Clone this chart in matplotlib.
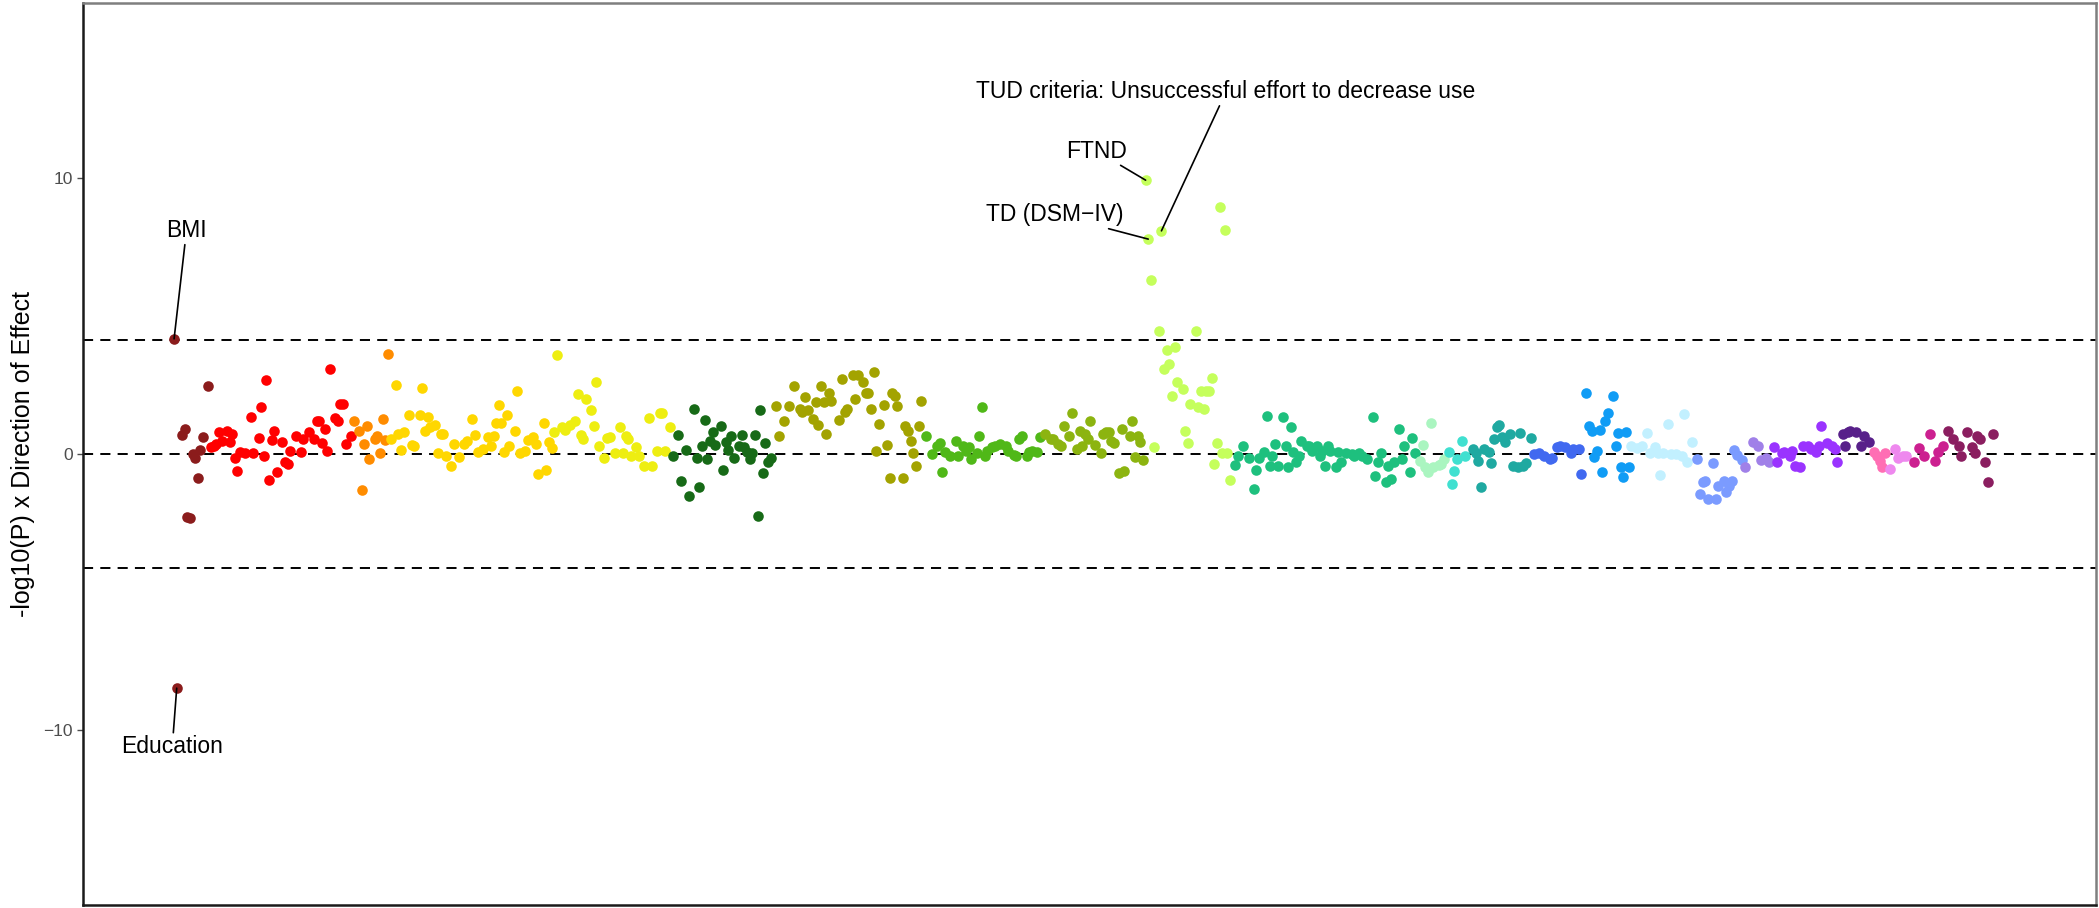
import numpy as np
import matplotlib
matplotlib.use("Agg")
import matplotlib.pyplot as plt

plt.rcParams["font.family"] = ["Liberation Sans", "DejaVu Sans"]

# ---- data: phenotype index and signed -log10(P) per category ----
dark_red_x = [1, 2, 4, 5, 6, 7, 8, 9, 10, 11, 12, 14]
dark_red_y = [4.18, -8.5, 0.69, 0.91, -2.27, -2.34, 0.0, -0.16, -0.88, 0.16, 0.61, 2.48]

red_x = [15, 16, 17, 18, 19, 21, 22, 23, 24, 25, 26, 28, 30, 31, 33, 34, 35, 36, 37, 38, 39, 40,
         42, 43, 44, 45, 47, 49, 50, 52, 54, 55, 56, 57, 58, 59, 60, 62, 63, 64, 65, 66, 68]
red_y = [0.24, 0.30, 0.36, 0.79, 0.48, 0.85, 0.42, 0.73, -0.16, -0.61, 0.08, 0.04, 1.33, 0.04,
         0.57, 1.70, -0.08, 2.70, -0.95, 0.52, 0.85, -0.67, 0.42, -0.28, -0.36, 0.12, 0.67, 0.06,
         0.55, 0.81, 0.55, 1.21, 1.21, 0.40, 0.91, 0.12, 3.09, 1.30, 1.18, 1.82, 1.82, 0.36, 0.67]

orange_x = [69, 71, 72, 73, 74, 75, 77, 78, 79, 80, 81, 82]
orange_y = [1.18, 0.85, -1.30, 0.36, 1.03, -0.18, 0.55, 0.67, 0.04, 1.27, 0.52, 3.64]

gold_x = [83, 85, 86, 87, 88, 90, 91, 92, 94, 95, 96, 97, 98, 100, 101, 102, 103, 104, 106, 107,
          109, 111, 112, 114, 115, 116, 118, 120, 121, 122, 123, 124, 125, 126, 127, 128, 130, 131,
          132, 134, 135, 137, 138, 139, 141, 142, 143, 144]
gold_y = [0.55, 2.51, 0.73, 0.16, 0.81, 1.42, 0.33, 0.30, 1.42, 2.39, 0.85, 1.33, 0.97, 1.05,
          0.04, 0.73, 0.73, -0.06, -0.42, 0.36, -0.12, 0.36, 0.48, 1.27, 0.69, 0.06, 0.18, 0.61,
          0.30, 0.64, 1.13, 1.78, 1.13, 0.08, 1.42, 0.30, 0.85, 2.27, 0.04, 0.12, 0.52, 0.61,
          0.36, -0.73, 1.13, -0.57, 0.45, 0.21]

lemon_x = [145, 146, 148, 149, 151, 153, 154, 155, 156, 157, 159, 160, 161, 162, 164, 165, 166,
           168, 170, 171, 172, 173, 174, 176, 177, 179, 181, 182, 184, 185, 186, 187, 189]
lemon_y = [0.81, 3.58, 0.97, 0.88, 1.05, 1.21, 2.18, 0.69, 0.55, 1.98, 1.58, 1.03, 2.61, 0.30,
           -0.16, 0.57, 0.61, 0.04, 0.97, 0.04, 0.64, 0.55, -0.08, 0.24, -0.08, -0.42, 1.30,
           -0.42, 0.12, 1.49, 1.49, 0.12, 0.97]

dkgreen_x = [190, 192, 193, 195, 196, 198, 199, 200, 201, 202, 203, 204, 205, 206, 208, 209, 210,
             211, 212, 213, 215, 216, 217, 218, 219, 220, 221, 222, 223, 224, 225, 226, 227]
dkgreen_y = [-0.06, 0.69, -0.97, 0.16, -1.52, 1.64, -0.16, -1.21, 0.28, 1.25, -0.18, 0.48, 0.79,
             0.33, 1.03, -0.57, 0.45, 0.16, 0.64, -0.16, 0.30, 0.69, 0.24, 0.08, -0.18, 0.04,
             0.69, -2.24, 1.58, -0.69, 0.40, -0.28, -0.16]

olive_x = [229, 230, 232, 234, 236, 238, 239, 240, 241, 243, 244, 245, 246, 247, 248, 249, 250,
           253, 254, 255, 256, 258, 259, 260, 262, 263, 264, 265, 266, 267, 268, 270, 271, 272,
           273, 274, 275, 277, 278, 279, 280, 281, 282, 283, 284]
olive_y = [1.76, 0.67, 1.18, 1.76, 2.46, 1.64, 1.52, 2.06, 1.58, 1.27, 1.90, 1.05, 2.46, 1.88,
           0.73, 2.22, 1.94, 1.25, 2.73, 1.52, 1.64, 2.85, 2.00, 2.87, 2.61, 2.22, 2.22, 1.64,
           2.97, 0.12, 1.09, 1.78, 0.33, -0.88, 2.22, 2.12, 1.76, -0.88, 1.01, 0.85, 0.48, 0.04,
           -0.42, 1.03, 1.94]

green_x = [286, 288, 290, 291, 292, 293, 295, 297, 298, 300, 301, 302, 303, 305, 306, 307, 308,
           309, 311, 312, 314, 316, 317, 319, 320, 321, 322, 324, 325, 326, 328, 329]
green_y = [0.67, 0.0, 0.30, 0.40, -0.64, 0.08, -0.06, 0.48, -0.06, 0.30, 0.12, 0.24, -0.18, 0.04,
           0.67, 1.70, -0.06, 0.12, 0.24, 0.30, 0.36, 0.30, 0.12, -0.04, -0.06, 0.55, 0.67,
           -0.06, 0.06, 0.12, 0.06, 0.61]

ygreen_x = [331, 333, 334, 336, 337, 338, 340, 341, 343, 344, 345, 346, 347, 348, 350, 352, 353,
            354, 355, 356, 357, 359, 360, 361, 363, 364, 365, 366, 367, 368]
ygreen_y = [0.73, 0.55, 0.55, 0.36, 0.30, 1.01, 0.64, 1.49, 0.18, 0.85, 0.30, 0.73, 0.55, 1.18,
            0.33, 0.04, 0.73, 0.79, 0.81, 0.48, 0.40, -0.69, 0.91, -0.61, 0.64, 1.18, -0.12,
            0.67, 0.42, -0.21]

lime_x = [369, 370, 371, 372, 374, 375, 376, 377, 378, 379, 380, 381, 383, 384, 385, 386, 388,
          389, 390, 391, 392, 393, 394, 395, 396, 397, 398, 399, 400, 401]
lime_y = [9.94, 7.80, 6.3, 0.24, 4.48, 8.10, 3.07, 3.76, 3.27, 2.12, 3.88, 2.61, 2.36, 0.85, 0.40,
          1.82, 4.48, 1.70, 2.27, 1.64, 2.30, 2.30, 2.75, -0.36, 0.40, 8.98, 0.04, 8.13, 0.04, -0.93]

seagreen_x = [403, 404, 406, 408, 410, 411, 412, 414, 415, 416, 417, 418, 419, 421, 422, 423, 424,
              425, 426, 427, 428, 430, 431, 432, 434, 435, 436, 437, 438, 439, 441, 442, 443, 445,
              447, 448, 450, 451, 453, 455, 456, 457, 458, 460, 461, 462, 463, 465, 466, 467, 469,
              470, 471]
seagreen_y = [-0.40, -0.06, 0.30, -0.16, -1.27, -0.57, -0.16, 0.06, 1.39, -0.42, -0.06, 0.36,
              -0.42, 1.33, 0.30, -0.48, 0.97, 0.06, -0.28, -0.06, 0.48, 0.30, 0.28, 0.12, 0.30,
              -0.06, 0.12, -0.42, 0.30, 0.12, -0.48, 0.06, -0.28, 0.04, 0.0, -0.06, 0.04, -0.06,
              -0.18, 1.33, -0.79, -0.28, 0.04, -1.03, -0.42, -0.91, -0.30, 0.91, -0.18, 0.30,
              -0.67, 0.57, 0.04]

mint_x = [473, 474, 475, 476, 477, 478, 480, 481, 482]
mint_y = [-0.24, 0.33, -0.48, -0.67, 1.13, -0.48, -0.40, -0.36, -0.18]

turq_x = [484, 485, 486, 487, 489, 490]
turq_y = [0.06, -1.09, -0.61, -0.18, 0.48, -0.06]

teal_x = [493, 494, 495, 496, 497, 499, 500, 501, 502, 503, 504, 505, 507, 508, 510, 511, 512,
          513, 515]
teal_y = [0.18, 0.04, -0.24, -1.21, 0.18, 0.06, -0.33, 0.55, 0.97, 1.05, 0.61, 0.42, 0.73, -0.42,
          -0.48, 0.76, -0.42, -0.33, 0.57]

royal_x = [516, 518, 520, 522, 523, 525, 526, 528, 530, 531, 533, 534]
royal_y = [0.0, 0.04, -0.06, -0.18, -0.16, 0.24, 0.30, 0.24, 0.04, 0.18, 0.18, -0.73]

dodger_x = [536, 537, 538, 539, 540, 541, 542, 543, 544, 546, 547, 548, 549, 550, 551, 552]
dodger_y = [2.22, 1.03, 0.85, -0.12, 0.12, 0.88, -0.67, 1.18, 1.49, 2.12, 0.30, 0.76, -0.48,
            -0.85, 0.81, -0.48]

ltblue_x = [553, 555, 557, 559, 560, 562, 563, 564, 565, 567, 568, 570, 572, 573, 574, 576]
ltblue_y = [0.30, 0.21, 0.30, 0.76, 0.04, 0.24, 0.04, -0.76, 0.04, 1.09, 0.0, 0.0, -0.06, 1.45,
            -0.28, 0.42]

cornflower_x = [578, 579, 580, 581, 582, 584, 585, 586, 588, 589, 590, 591, 592, 593, 595]
cornflower_y = [-0.18, -1.45, -1.03, -0.97, -1.64, -0.33, -1.64, -1.15, -0.97, -1.39, -1.15,
                -0.97, 0.16, -0.04, -0.21]

mpurple_x = [596, 599, 601, 602, 604, 605]
mpurple_y = [-0.48, 0.42, 0.30, -0.21, -0.16, -0.30]

purple_x = [607, 608, 610, 611, 613, 614, 615, 617, 618, 620, 621, 623, 624, 625, 627, 629, 630, 631]
purple_y = [0.24, -0.30, 0.04, 0.08, -0.06, 0.12, -0.42, -0.48, 0.30, 0.30, 0.18, 0.06, 0.30,
            1.01, 0.40, 0.30, 0.18, -0.28]

dkpurple_x = [633, 634, 635, 636, 638, 640, 641, 643]
dkpurple_y = [0.73, 0.30, 0.81, 0.85, 0.79, 0.30, 0.67, 0.42]

pink_x = [645, 646, 647, 648, 649]
pink_y = [0.08, -0.06, -0.24, -0.48, 0.04]

violet_x = [651, 653, 654, 656, 657]
violet_y = [-0.55, 0.18, -0.16, -0.06, -0.08]

magenta_x = [660, 662, 664, 666, 668, 669, 671]
magenta_y = [-0.28, 0.21, -0.06, 0.73, -0.24, 0.08, 0.30]

plum_x = [673, 675, 677, 678, 680, 682, 683, 684, 685, 687, 688, 690]
plum_y = [0.85, 0.55, 0.30, -0.06, 0.79, 0.24, 0.04, 0.67, 0.55, -0.30, -1.01, 0.73]

threshold = 4.14

groups = [
    (dark_red_x, dark_red_y, "#8B1C1C"),
    (red_x, red_y, "#FF0000"),
    (orange_x, orange_y, "#FF8C00"),
    (gold_x, gold_y, "#FFD700"),
    (lemon_x, lemon_y, "#EEEE11"),
    (dkgreen_x, dkgreen_y, "#176A17"),
    (olive_x, olive_y, "#A3A300"),
    (green_x, green_y, "#50B818"),
    (ygreen_x, ygreen_y, "#8CB410"),
    (lime_x, lime_y, "#C5FF5C"),
    (seagreen_x, seagreen_y, "#1EC07E"),
    (mint_x, mint_y, "#AAF5C0"),
    (turq_x, turq_y, "#40E0D0"),
    (teal_x, teal_y, "#1FA9A1"),
    (royal_x, royal_y, "#4169F0"),
    (dodger_x, dodger_y, "#109CF5"),
    (ltblue_x, ltblue_y, "#C2F0FF"),
    (cornflower_x, cornflower_y, "#7B9BFF"),
    (mpurple_x, mpurple_y, "#A080E8"),
    (purple_x, purple_y, "#9A33FF"),
    (dkpurple_x, dkpurple_y, "#58208A"),
    (pink_x, pink_y, "#FF6EB4"),
    (violet_x, violet_y, "#EE88EE"),
    (magenta_x, magenta_y, "#CC2090"),
    (plum_x, plum_y, "#8B1E60"),
]

# labelled phenotypes: (label, point x, point y, text x, text baseline y)
labels = [
    ("BMI", 1, 4.18, 5.7, 7.88),
    ("Education", 2, -8.5, 0.3, -10.87),
    ("FTND", 369, 9.94, 350.4, 10.76),
    ("TD (DSM\u2212IV)", 370, 7.80, 334.4, 8.46),
    ("TUD criteria: Unsuccessful effort to decrease use", 375, 8.10, 399.5, 12.92),
]

fig = plt.figure(figsize=(20.99, 9.08), dpi=100)
ax = fig.add_axes([83 / 2099, 3 / 908, (2096 - 83) / 2099, (905 - 3) / 908])

dash = (0, (5.2, 3.7))
for yv in (threshold, 0, -threshold):
    ax.axhline(yv, color="black", lw=1.4, ls=dash, zorder=1)

for gx, gy, col in groups:
    ax.scatter(gx, gy, s=58, color=col, linewidths=0, zorder=2)

for lab, px, py, tx, ty in labels:
    ax.annotate(lab, xy=(px, py), xytext=(tx, ty), ha="center", va="baseline",
                fontsize=16.5, color="black", zorder=3,
                arrowprops=dict(arrowstyle="-", color="black", lw=1.2,
                                shrinkA=0, shrinkB=0))

ax.set_xlim(-33.5, 729)
ax.set_ylim(-16.37, 16.37)
ax.set_yticks([-10, 0, 10])
ax.set_yticklabels(["\u221210", "0", "10"])
ax.set_xticks([])
ax.tick_params(axis="y", labelsize=12.5, colors="#4D4D4D", length=4.5, width=1, pad=3)
ax.set_ylabel("-log10(P) x Direction of Effect", fontsize=18, labelpad=6)

for s in ("left", "bottom"):
    ax.spines[s].set_color("#1a1a1a")
    ax.spines[s].set_linewidth(1.8)
for s in ("top", "right"):
    ax.spines[s].set_color("#7f7f7f")
    ax.spines[s].set_linewidth(1.8)

fig.savefig("out.png", dpi=100)
